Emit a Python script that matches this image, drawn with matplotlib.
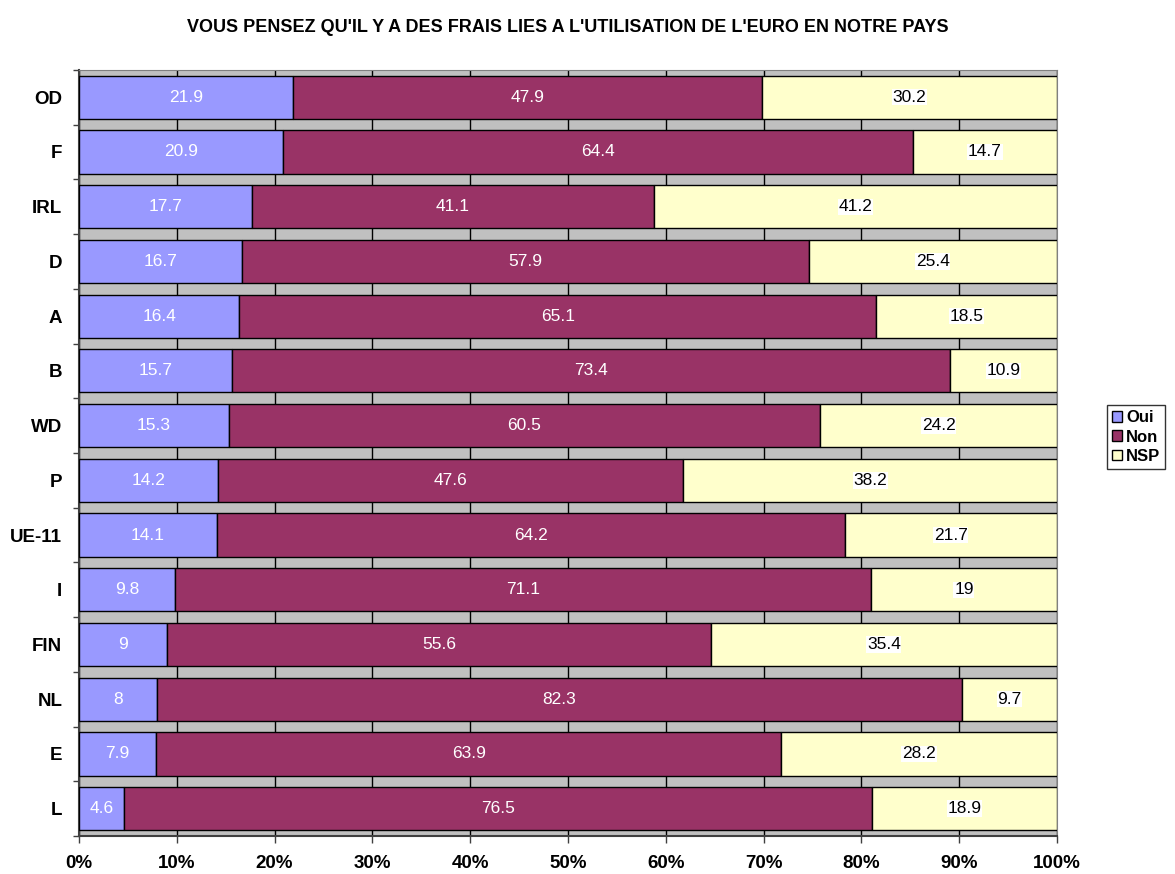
import numpy as np
import matplotlib.pyplot as plt
from matplotlib.patches import Patch

plt.rcParams["font.family"] = ["Liberation Sans", "DejaVu Sans"]

pays = ["OD", "F", "IRL", "D", "A", "B", "WD", "P", "UE-11", "I", "FIN", "NL", "E", "L"]
oui = [21.9, 20.9, 17.7, 16.7, 16.4, 15.7, 15.3, 14.2, 14.1, 9.8, 9, 8, 7.9, 4.6]
non = [47.9, 64.4, 41.1, 57.9, 65.1, 73.4, 60.5, 47.6, 64.2, 71.1, 55.6, 82.3, 63.9, 76.5]
nsp = [30.2, 14.7, 41.2, 25.4, 18.5, 10.9, 24.2, 38.2, 21.7, 19, 35.4, 9.7, 28.2, 18.9]

c_oui = "#9999FF"
c_non = "#993366"
c_nsp = "#FFFFCC"

fig = plt.figure(figsize=(11.75, 8.74), dpi=100)
ax = fig.add_axes([0.0672, 0.0435, 0.8323, 0.8765])
ax.set_facecolor("#C0C0C0")

y = np.arange(len(pays))[::-1]
oui_a = np.array(oui)
non_a = np.array(non)
nsp_a = np.array(nsp)
tot = oui_a + non_a + nsp_a
p_oui = oui_a / tot * 100
p_non = non_a / tot * 100
p_nsp = nsp_a / tot * 100

h = 0.79
ax.barh(y, p_oui, height=h, color=c_oui, edgecolor="black", linewidth=1, zorder=3)
ax.barh(y, p_non, left=p_oui, height=h, color=c_non, edgecolor="black", linewidth=1, zorder=3)
ax.barh(y, p_nsp, left=p_oui + p_non, height=h, color=c_nsp, edgecolor="black", linewidth=1, zorder=3)

for i in range(len(pays)):
    ax.text(p_oui[i] / 2, y[i], f"{oui[i]:g}", ha="center", va="center",
            color="white", fontsize=12.5, zorder=4)
    ax.text(p_oui[i] + p_non[i] / 2, y[i], f"{non[i]:g}", ha="center", va="center",
            color="white", fontsize=12.5, zorder=4)
    ax.text(p_oui[i] + p_non[i] + p_nsp[i] / 2, y[i], f"{nsp[i]:g}", ha="center", va="center",
            color="black", fontsize=12.5, zorder=4,
            bbox=dict(facecolor="white", edgecolor="none", pad=0.5))

ax.set_xlim(0, 100)
ax.set_ylim(-0.5, len(pays) - 0.5)
ax.set_xticks(np.arange(0, 101, 10))
ax.set_xticklabels([f"{v}%" for v in range(0, 101, 10)], fontsize=13.5, fontweight="bold")
ax.set_yticks(y)
ax.set_yticklabels(pays, fontsize=13.5, fontweight="bold")
ax.tick_params(axis="y", length=0, pad=12)
ax.set_yticks(np.arange(-0.5, len(pays), 1), minor=True)
ax.tick_params(axis="y", which="minor", length=4.5, width=1, color="#404040")
ax.tick_params(axis="x", length=5, width=1, color="#404040", pad=9)
ax.xaxis.grid(True, color="black", linewidth=1, zorder=1)
ax.set_axisbelow(True)
for s in ["top", "right"]:
    ax.spines[s].set_color("#808080")
for s in ["left", "bottom"]:
    ax.spines[s].set_color("#404040")
    ax.spines[s].set_linewidth(1.5)

ax.set_title("VOUS PENSEZ QU'IL Y A DES FRAIS LIES A L'UTILISATION DE L'EURO EN NOTRE PAYS",
             fontsize=13, fontweight="bold", pad=27)

handles = [Patch(facecolor=c_oui, edgecolor="black", label="Oui"),
           Patch(facecolor=c_non, edgecolor="black", label="Non"),
           Patch(facecolor=c_nsp, edgecolor="black", label="NSP")]
leg = fig.legend(handles=handles, loc="center left", bbox_to_anchor=(0.942, 0.5),
                 prop={"weight": "bold", "size": 12}, frameon=True, fancybox=False,
                 handlelength=0.6, handleheight=0.6, handletextpad=0.25,
                 borderpad=0.3, labelspacing=0.25, borderaxespad=0)
leg.get_frame().set_edgecolor("black")
leg.get_frame().set_linewidth(1)

fig.savefig("out.png", dpi=100)
